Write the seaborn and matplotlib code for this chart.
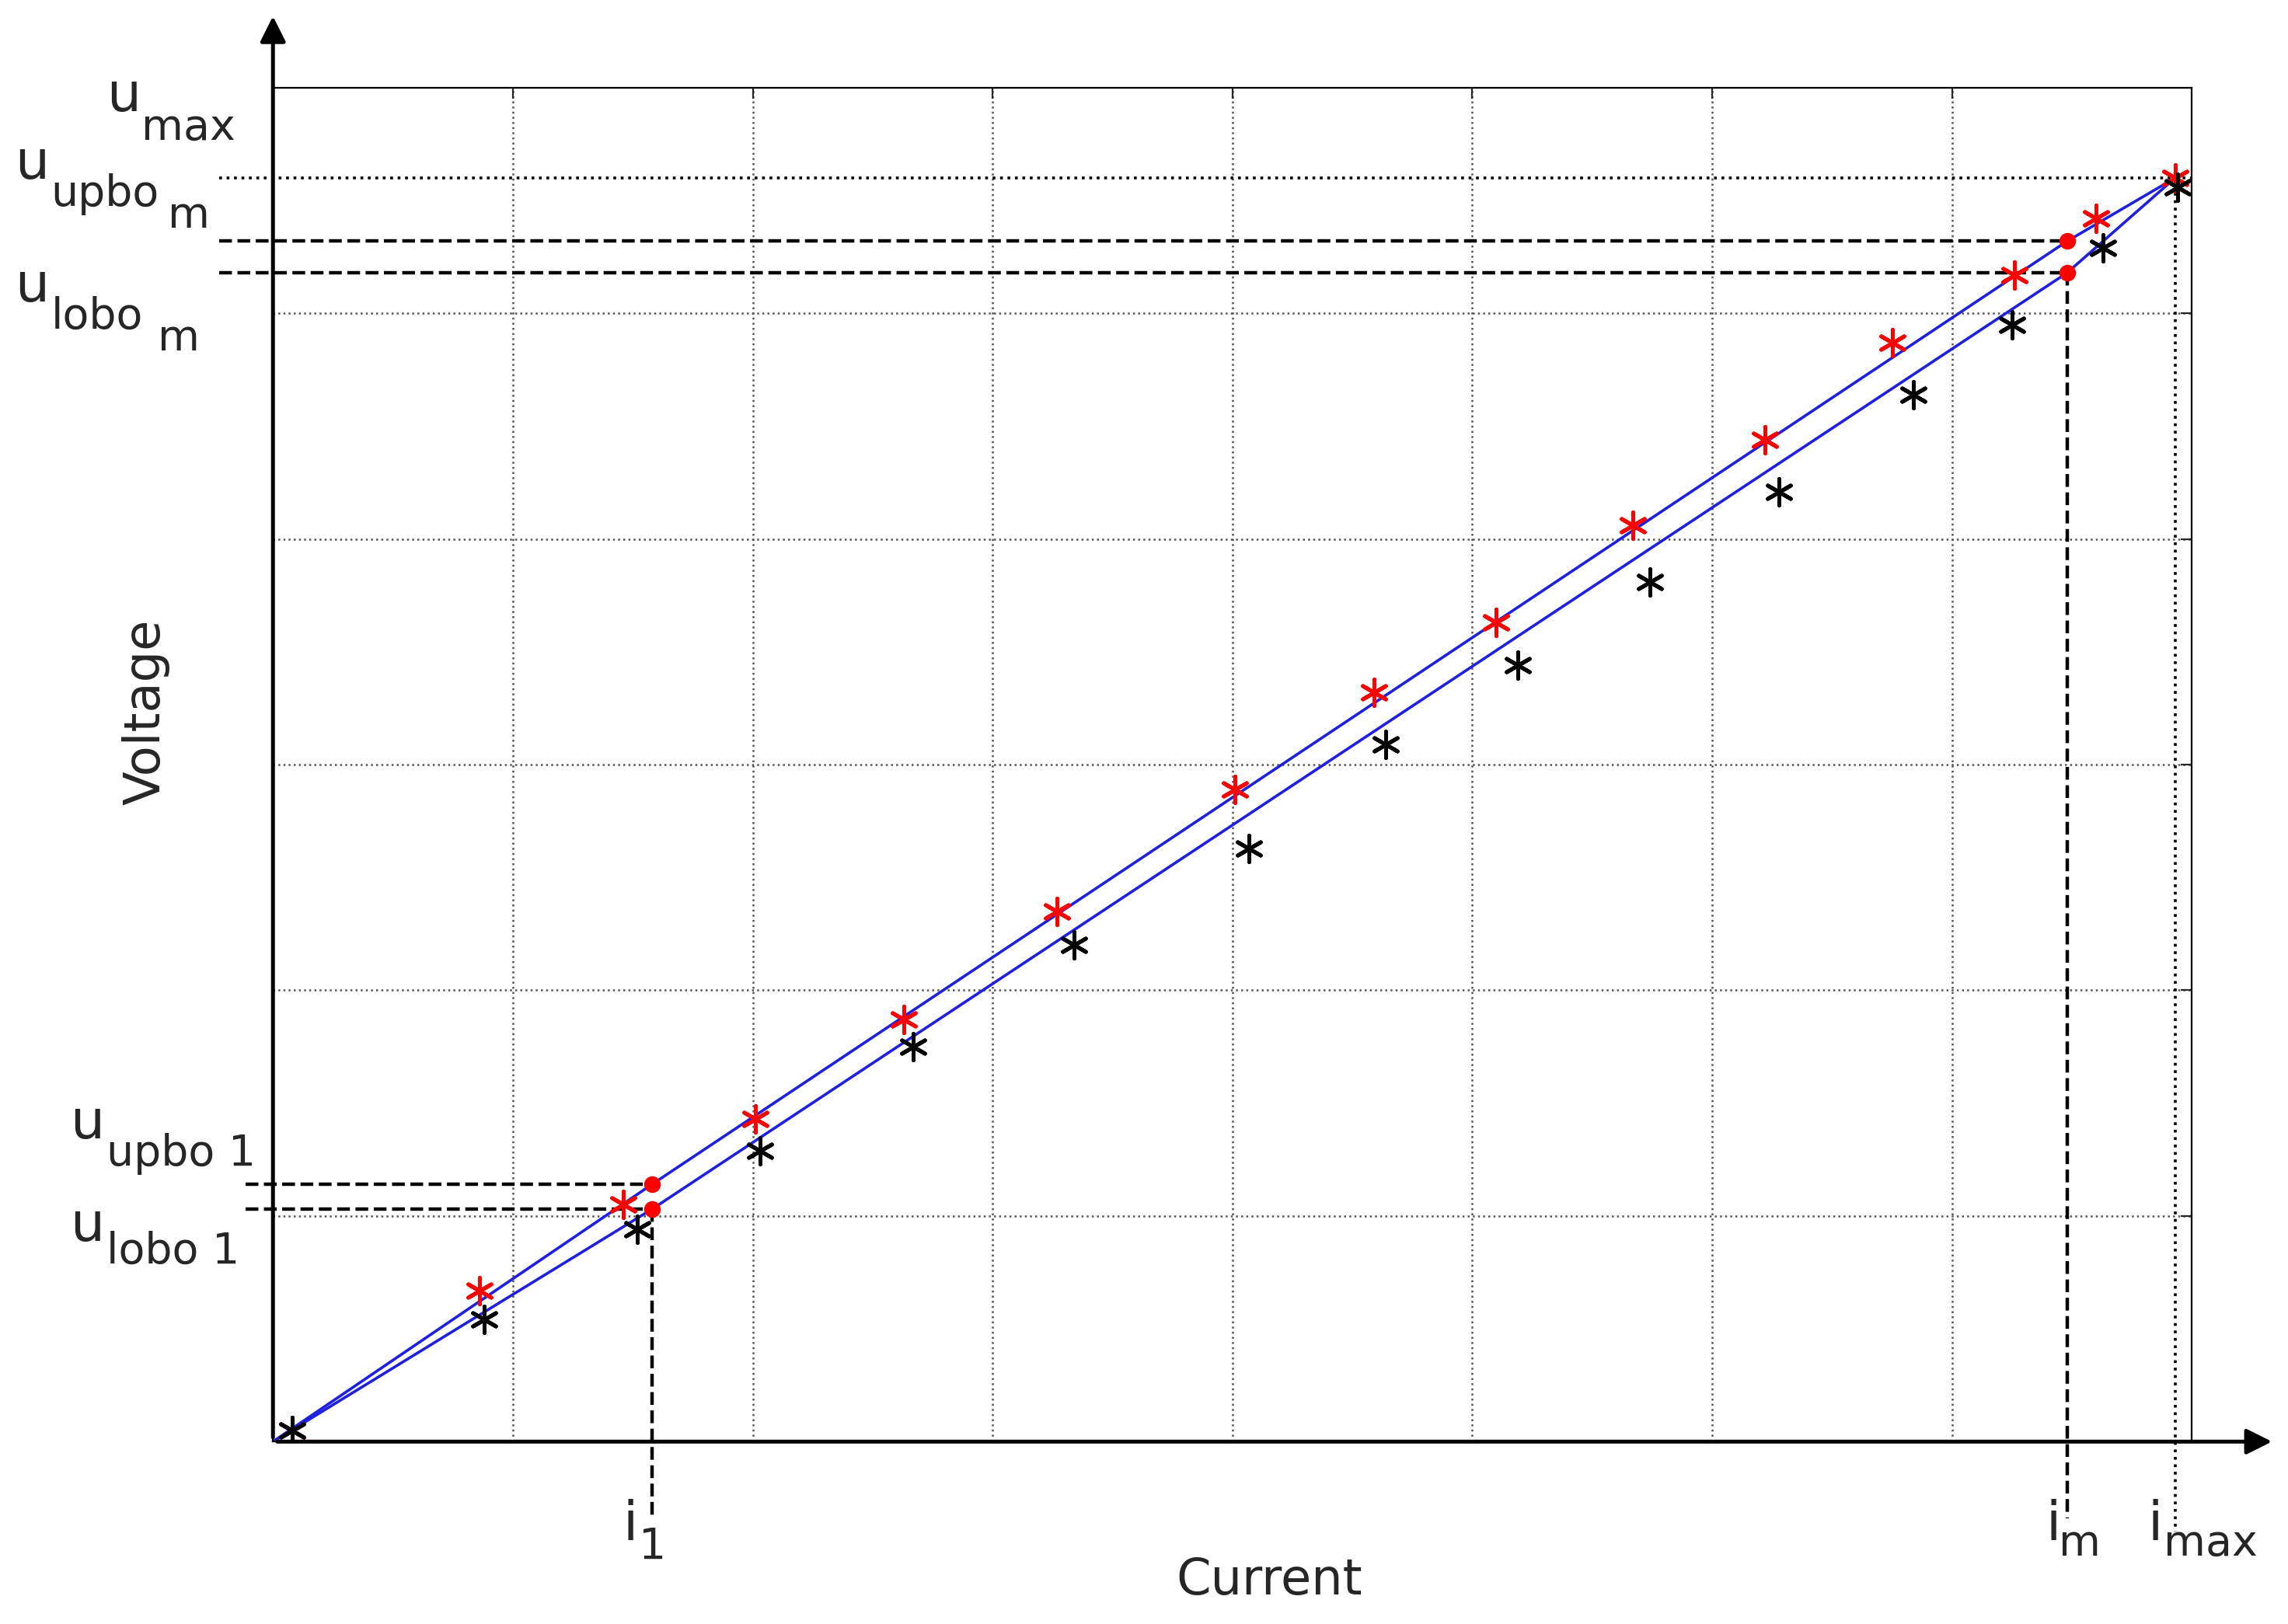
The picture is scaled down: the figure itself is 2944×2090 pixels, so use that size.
import numpy as np
import pandas as pd
import matplotlib
matplotlib.use("Agg")
import matplotlib.pyplot as plt
import seaborn as sns

# measured points (current, voltage)
red_x = [0.08, 0.86, 1.46, 2.01, 2.63, 3.27, 4.01, 4.59, 5.10, 5.67, 6.22, 6.75, 7.26, 7.60, 7.93]
red_y = [0.05, 0.67, 1.05, 1.43, 1.87, 2.35, 2.89, 3.32, 3.63, 4.06, 4.44, 4.87, 5.17, 5.42, 5.60]
blk_x = [0.08, 0.88, 1.52, 2.03, 2.67, 3.34, 4.07, 4.64, 5.19, 5.74, 6.28, 6.84, 7.25, 7.63, 7.94]
blk_y = [0.05, 0.54, 0.94, 1.29, 1.75, 2.20, 2.63, 3.09, 3.44, 3.81, 4.21, 4.64, 4.95, 5.29, 5.56]

# boundary curves
up_x = [0.0, 1.58, 7.48, 7.93]
up_y = [0.0, 1.14, 5.32, 5.60]
lo_x = [0.0, 1.58, 7.48, 7.93]
lo_y = [0.0, 1.03, 5.18, 5.60]

i1, im, imax = 1.58, 7.48, 7.93
u_up1, u_lo1, u_upm, u_lom, u_top = 1.14, 1.03, 5.32, 5.18, 5.60

sns.set_style("white")
plt.rcParams['font.family'] = ['DejaVu Sans']

fig = plt.figure(figsize=(14.72, 10.45), dpi=200)
ax = fig.add_axes([0.1193, 0.1123, 0.8387, 0.8337])
ax.set_xlim(0, 8)
ax.set_ylim(0, 6)
ax.set_xticks(np.arange(1, 8))
ax.set_yticks(np.arange(1, 6))
ax.set_xticklabels([])
ax.set_yticklabels([])
ax.grid(True, linestyle=':', color='#555555', linewidth=0.9)
ax.tick_params(axis='both', direction='in', length=5, right=True, top=True, left=False, bottom=False)
for s in ax.spines.values():
    s.set_linewidth(0.8)
    s.set_color('black')

sns.lineplot(x=up_x, y=up_y, ax=ax, color='#1f1fe0', linewidth=1.3, sort=False)
sns.lineplot(x=lo_x, y=lo_y, ax=ax, color='#1f1fe0', linewidth=1.3, sort=False)
ax.scatter(red_x, red_y, marker=(6, 2, 0), s=150, color='red', linewidths=1.8, zorder=5)
ax.scatter(blk_x, blk_y, marker=(6, 2, 0), s=150, color='black', linewidths=1.8, zorder=5)
ax.scatter([i1, i1, im, im], [u_up1, u_lo1, u_upm, u_lom], color='red', s=45, zorder=6)

kw = dict(color='black', linewidth=1.6, clip_on=False)
ax.plot([-0.225, im], [u_upm, u_upm], ls='--', **kw)
ax.plot([-0.225, im], [u_lom, u_lom], ls='--', **kw)
ax.plot([-0.115, i1], [u_up1, u_up1], ls='--', **kw)
ax.plot([-0.115, i1], [u_lo1, u_lo1], ls='--', **kw)
ax.plot([i1, i1], [u_lo1, -0.34], ls='--', **kw)
ax.plot([im, im], [u_lom, -0.34], ls='--', **kw)
ax.plot([-0.225, 8], [u_top, u_top], ls=':', color='black', linewidth=1.3, clip_on=False)
ax.plot([imax, imax], [u_top, -0.40], ls=':', color='black', linewidth=1.3, clip_on=False)

# arrow axes
ax.annotate('', xy=(0, 1.056), xytext=(0, 0), xycoords='axes fraction',
            arrowprops=dict(arrowstyle='-|>', color='black', lw=1.8, mutation_scale=25))
ax.annotate('', xy=(1.044, 0), xytext=(0, 0), xycoords='axes fraction',
            arrowprops=dict(arrowstyle='-|>', color='black', lw=1.8, mutation_scale=25))

W, H = 1568.0, 1113.0


def put(txt, px, py, size, ha='left'):
    fig.text(px / W, 1 - py / H, txt, fontsize=size, ha=ha, va='center')


def label(main, mx, my, subs):
    put(main, mx, my, 25, ha='center')
    for s, sx, sy in subs:
        put(s, sx, sy, 20)


label('u', 85, 66, [('max', 97, 88)])
label('u', 22, 112, [('upbo', 35, 133), ('m', 115, 148)])
label('u', 22, 196, [('lobo', 35, 217), ('m', 108, 232)])
label('u', 60, 770, [('upbo 1', 73, 791)])
label('u', 60, 840, [('lobo 1', 73, 858)])
label('i', 432, 1045, [('1', 438, 1060)])
label('i', 1407, 1045, [('m', 1411, 1058)])
label('i', 1477, 1045, [('max', 1483, 1058)])
put('Current', 870, 1083, 23, ha='center')
fig.text(100 / W, 1 - 488 / H, 'Voltage', fontsize=23, rotation=90, ha='center', va='center')

fig.savefig('out.png', dpi=200)
